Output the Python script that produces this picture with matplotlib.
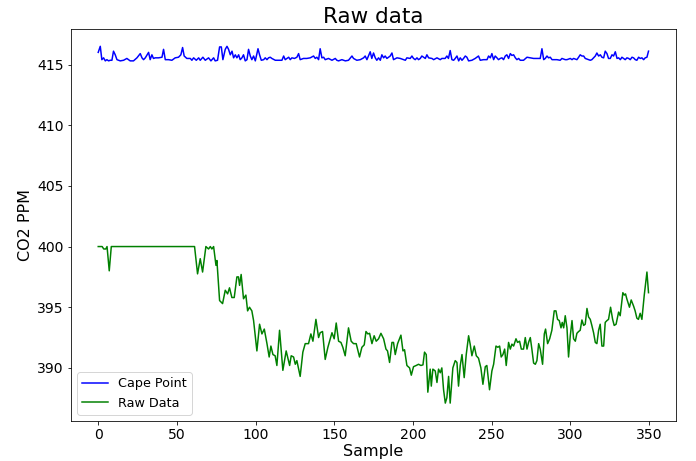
import matplotlib
matplotlib.use('Agg')
import matplotlib.pyplot as plt

# Cape Point reference series (sample index, ppm)
cape_x = [0, 1.3, 2.3, 3.4, 4.5, 5.5, 6.6, 7.6, 8.7, 9.7, 10.8, 11.9, 14, 16.1, 18.2, 20.3, 22.4, 24.6, 26.7, 27.8,
          28.8, 29.9, 32, 33, 34.1, 35.1, 36.2, 38.3, 40.5, 41.5, 42.6, 44.7, 46.8, 48.9, 51, 52.5, 53.6, 54.6, 56.3, 58.5,
          59.5, 60.6, 62.3, 63.8, 64.8, 66.5, 68, 70.1, 71.6, 73.3, 74.3, 75.8, 77.1, 78.2, 79.2, 80.7, 81.8, 82.8, 83.9, 85,
          86, 87.1, 88.1, 89.2, 90.2, 91.3, 92.3, 93.4, 94.5, 95.5, 96.6, 97.6, 98.7, 99.8, 101.5, 102.5, 103.6, 105.1, 106.1, 107.2,
          108.2, 109.3, 110.3, 112.5, 114.6, 116.7, 117.8, 118.8, 119.9, 121, 122, 123, 124.7, 126.2, 127.3, 128.3, 130.4, 132.5, 134.7, 136.8,
          137.9, 138.9, 140, 141, 142.1, 143.2, 144.2, 146.3, 148.5, 150.6, 151.6, 152.7, 154.8, 157, 159, 161.2, 162.2, 164.3, 166.5, 168.6,
          169.6, 170.7, 172.8, 173.8, 174.9, 176, 177, 178.1, 179.2, 180.2, 181.3, 182.3, 183.4, 185.5, 186.6, 187.6, 189.8, 191.9, 194, 195.1,
          196.1, 198.2, 199.3, 200.3, 201.4, 202.5, 203.5, 204.6, 205.6, 207.8, 208.8, 209.9, 212, 213.1, 215.2, 217.3, 218.3, 220.4, 221.5, 222.5,
          223.6, 224.7, 225.8, 226.8, 227.9, 229, 230, 231.1, 232.1, 233.2, 234.2, 235.3, 237.4, 239.5, 241.6, 242.7, 244.8, 247, 248, 249.1,
          250.1, 251.2, 252.2, 253.3, 254.3, 255.4, 256.5, 257.5, 258.6, 259.6, 260.7, 261.8, 262.8, 263.9, 265, 266, 267.1, 268.1, 270.2, 272.4,
          274.5, 276.6, 278.7, 280.8, 281.9, 283, 284, 285.1, 286.1, 287.2, 288.3, 289.3, 291.4, 293.5, 294.6, 296.7, 297.8, 299.9, 301, 302,
          304.1, 305.2, 306.2, 307.3, 308.4, 309.4, 311.5, 312.6, 313.6, 315.8, 316.8, 317.9, 319, 320, 321.1, 322.1, 323.2, 324.2, 325.3, 326.4,
          327.4, 328.5, 329.6, 330.6, 331.7, 332.7, 333.8, 334.8, 335.9, 337, 338, 339.1, 340.1, 341.2, 342.2, 343.3, 344.4, 345.4, 346.5, 347.5,
          348.6, 349.6]
cape_y = [416.0, 416.5, 415.4, 415.55, 415.3, 415.4, 415.3, 415.35, 415.35, 416.1, 415.8, 415.4, 415.3, 415.35, 415.5, 415.3, 415.3, 415.55, 415.9, 415.55,
          415.4, 415.55, 416.0, 415.4, 415.8, 415.5, 415.55, 415.55, 415.6, 416.25, 415.4, 415.4, 415.35, 415.55, 415.6, 415.8, 416.4, 415.7, 415.5, 415.5,
          415.35, 415.55, 415.35, 415.55, 415.35, 415.6, 415.35, 415.55, 415.3, 415.55, 415.3, 415.35, 416.45, 416.45, 415.4, 416.25, 416.5, 416.25, 415.8, 416.1,
          415.55, 415.8, 415.55, 415.8, 415.4, 415.55, 415.8, 415.3, 415.4, 416.25, 415.7, 415.4, 415.7, 415.3, 416.3, 415.8, 415.35, 415.4, 415.55, 415.4,
          415.55, 415.6, 415.5, 415.35, 415.35, 415.35, 415.7, 415.4, 415.5, 415.6, 415.4, 415.55, 415.5, 415.6, 415.9, 415.4, 415.5, 415.5, 415.55, 415.7,
          415.5, 415.6, 415.4, 416.3, 415.55, 415.6, 415.4, 415.5, 415.35, 415.5, 415.35, 415.3, 415.4, 415.3, 415.35, 415.7, 415.5, 415.35, 415.4, 415.55,
          415.7, 415.4, 416.05, 415.5, 415.95, 415.55, 415.35, 415.55, 415.35, 415.8, 415.55, 415.7, 415.5, 415.7, 415.95, 415.4, 415.55, 415.5, 415.4, 415.35,
          415.55, 415.5, 415.7, 415.5, 415.4, 415.55, 415.4, 415.5, 415.7, 415.5, 415.8, 415.55, 415.5, 415.4, 415.55, 415.4, 415.5, 415.5, 415.7, 415.5,
          416.15, 415.4, 415.35, 415.5, 415.7, 415.3, 415.55, 415.35, 415.5, 415.7, 415.6, 415.3, 415.35, 415.5, 415.7, 415.35, 415.4, 415.4, 415.7, 415.55,
          415.9, 415.4, 415.7, 415.55, 415.4, 415.5, 415.55, 415.4, 415.7, 415.8, 415.5, 415.9, 415.75, 415.8, 415.55, 415.4, 415.5, 415.35, 415.35, 415.6,
          415.55, 415.5, 415.5, 415.5, 416.3, 415.4, 415.5, 415.7, 415.55, 415.6, 415.4, 415.4, 415.4, 415.35, 415.5, 415.4, 415.4, 415.5, 415.4, 415.5,
          415.4, 415.6, 415.8, 415.7, 415.7, 415.5, 415.4, 415.35, 415.4, 415.7, 415.95, 415.7, 415.8, 415.6, 415.55, 416.1, 415.9, 415.5, 415.5, 415.8,
          415.7, 416.05, 415.5, 415.55, 415.4, 415.6, 415.5, 415.4, 415.55, 415.5, 415.4, 415.6, 415.55, 415.4, 415.35, 415.6, 415.5, 415.55, 415.4, 415.55,
          415.6, 416.1]

# raw sensor series (sample index, ppm)
raw_x = [0, 2.5, 3.5, 4.8, 5.6, 7, 8.3, 61.2, 63.1, 64.8, 66.3, 68.4, 70.1, 71.2, 72.2, 73.3, 74.8, 75.4, 77.1, 79,
         80.7, 82.2, 83.4, 84.9, 86.4, 88.1, 89.1, 89.8, 90.8, 92.3, 93.8, 94.9, 96.1, 97.6, 98.7, 100.8, 102.5, 104, 105.5, 107.2,
         108.6, 109.7, 111, 112.4, 113.5, 115.2, 117.3, 119.4, 121.6, 122.6, 124.1, 125.2, 126.2, 128.3, 130, 131.5, 133.6, 135.1, 136.4, 138.3,
         140, 141, 142.5, 144.2, 145.9, 147, 148.5, 149.9, 151.2, 152.7, 154.2, 155.4, 156.9, 159, 160.7, 162.2, 163.9, 166, 167.5, 169,
         170.1, 171.3, 172.4, 173.9, 175.3, 176.6, 178.1, 179.6, 181.3, 182.8, 183.8, 185.1, 186.6, 187.6, 188.7, 190.2, 192.3, 193.6, 194.6, 196.1,
         197.8, 198.9, 200.3, 202, 203.5, 205, 206.3, 207.3, 208.4, 209.4, 210.9, 211.6, 212.6, 214.1, 215.2, 216.2, 217.3, 218.3, 219.4, 220.5,
         221.5, 222.6, 223.6, 225.3, 226.8, 227.9, 228.9, 230, 231.1, 232.5, 233.8, 235.3, 236.3, 237.4, 238.9, 240.2, 241.6, 243.1, 244.4, 245.9,
         246.9, 248.6, 250.1, 251.2, 252.7, 253.9, 255, 256, 257.1, 258.2, 259.2, 260.7, 261.8, 262.8, 263.9, 265.4, 266.4, 267.7, 268.8, 270.2,
         271.3, 272.4, 273.4, 274.5, 275.5, 276.6, 277.7, 278.7, 279.8, 280.8, 282.3, 283.4, 284.2, 285.5, 286.8, 288.2, 289.7, 290.8, 291.8, 292.9,
         294, 294.8, 295.7, 296.7, 297.8, 298.8, 299.9, 301, 302, 303.1, 304.1, 305.2, 306.2, 307.3, 308.4, 309.4, 310.5, 311.5, 312.6, 313.6,
         314.7, 315.8, 316.8, 317.9, 318.9, 320, 321.1, 322.1, 323.2, 324.2, 325.5, 326.8, 327.8, 329, 330.6, 331.6, 333.3, 334.2, 335, 335.8,
         337.5, 338.6, 340.1, 341.1, 342.2, 343.2, 344.3, 345.4, 346.9, 348.6, 349.6]
raw_y = [400.0, 400.0, 399.8, 399.8, 400.0, 398.0, 400.0, 400.0, 397.75, 399.0, 397.9, 400.0, 399.8, 400.0, 399.8, 400.0, 398.45, 398.85, 395.55, 395.3,
         396.4, 396.1, 396.6, 395.8, 395.8, 397.5, 397.5, 396.8, 397.7, 395.7, 396.0, 394.7, 395.0, 394.7, 393.9, 391.4, 393.6, 392.8, 393.2, 392.0,
         390.9, 391.8, 391.1, 391.0, 390.2, 393.1, 389.8, 391.4, 390.2, 391.0, 390.9, 390.3, 390.6, 389.3, 391.3, 392.0, 392.0, 392.8, 392.2, 394.0,
         392.5, 392.9, 393.0, 390.7, 391.7, 392.2, 392.9, 392.4, 393.7, 392.2, 392.1, 391.7, 391.0, 393.3, 392.2, 392.0, 392.0, 390.9, 391.7, 391.9,
         393.0, 392.8, 392.85, 392.0, 392.65, 392.2, 392.4, 392.85, 392.4, 391.55, 391.4, 390.45, 392.1, 392.1, 391.1, 392.0, 392.7, 391.4, 391.5, 390.2,
         390.0, 389.4, 390.1, 390.2, 390.3, 390.2, 390.25, 391.3, 391.1, 388.0, 389.9, 388.5, 389.9, 389.75, 388.8, 389.9, 389.6, 390.0, 388.2, 387.1,
         387.55, 389.3, 387.1, 390.0, 390.6, 390.45, 388.5, 390.2, 391.1, 389.2, 391.1, 392.65, 391.96, 391.0, 391.8, 391.0, 390.8, 390.0, 388.65, 390.1,
         390.2, 388.2, 389.75, 390.3, 391.8, 391.7, 391.8, 390.9, 391.1, 391.55, 390.2, 392.1, 391.55, 391.96, 391.8, 392.4, 392.1, 392.2, 391.55, 391.55,
         392.5, 391.55, 392.1, 392.5, 391.55, 390.4, 390.3, 390.6, 392.0, 391.55, 390.3, 392.8, 393.2, 392.0, 392.4, 393.1, 394.7, 394.7, 394.0, 393.9,
         393.3, 393.75, 393.3, 394.3, 393.3, 390.9, 392.65, 393.9, 392.4, 392.2, 392.85, 393.0, 393.1, 393.95, 393.5, 393.6, 394.9, 394.2, 394.0, 393.5,
         392.9, 392.1, 392.0, 393.1, 393.6, 391.8, 391.8, 393.75, 393.9, 394.0, 395.0, 394.0, 393.5, 393.6, 394.6, 394.3, 396.2, 396.0, 396.1, 395.7,
         395.0, 395.6, 395.1, 394.7, 394.1, 394.0, 394.5, 394.0, 396.0, 397.9, 396.2]

fig, ax = plt.subplots(figsize=(696 / 72, 461 / 72), dpi=72)
plt.subplots_adjust(left=0.1016, right=0.9713, top=0.9364, bottom=0.0861)

ax.plot(cape_x, cape_y, color='blue', linewidth=1.5, label='Cape Point')
ax.plot(raw_x, raw_y, color='green', linewidth=1.5, label='Raw Data')

ax.set_title('Raw data', fontsize=21.5)
ax.set_xlabel('Sample', fontsize=16, labelpad=2)
ax.set_ylabel('CO2 PPM', fontsize=16)
ax.tick_params(labelsize=14)
ax.set_xticks([0, 50, 100, 150, 200, 250, 300, 350])
ax.set_yticks([390, 395, 400, 405, 410, 415])
ax.set_ylim(385.6, 417.9)
ax.legend(loc='lower left', fontsize=12.8)

plt.savefig('out.png')
